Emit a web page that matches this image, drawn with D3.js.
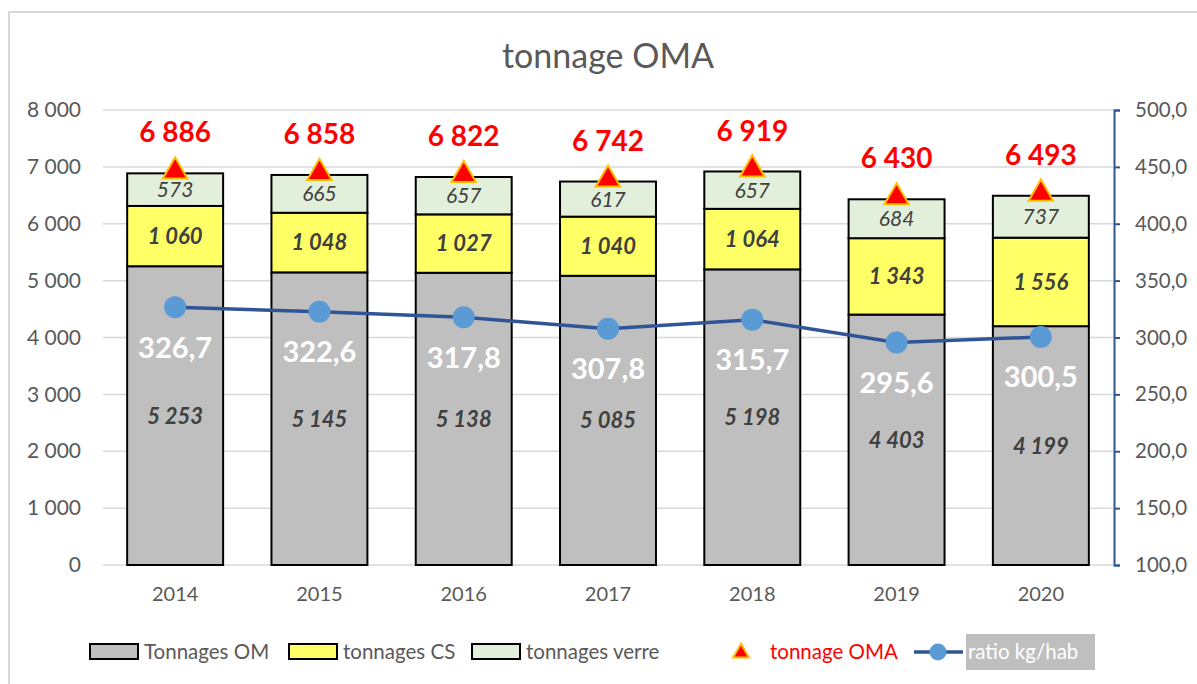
<!DOCTYPE html>
<html><head><meta charset="utf-8">
<script src="https://cdn.jsdelivr.net/npm/d3@7"></script>
<style>body{margin:0;background:#fff}svg{display:block}</style>
</head><body><svg id="c" width="1197" height="684"></svg>
<script>
const years = ["2014","2015","2016","2017","2018","2019","2020"];
const om = [5253,5145,5138,5085,5198,4403,4199];
const cs = [1060,1048,1027,1040,1064,1343,1556];
const verre = [573,665,657,617,657,684,737];
const oma = [6886,6858,6822,6742,6919,6430,6493];
const ratio = [326.7,322.6,317.8,307.8,315.7,295.6,300.5];
const leftTicks = [0,1000,2000,3000,4000,5000,6000,7000,8000];
const rightTicks = [100,150,200,250,300,350,400,450,500];

const font = "Lato, 'Open Sans', sans-serif";
const svg = d3.select("#c");
const fmtL = v => d3.format(",")(v).replace(/,/g," ");
const fmtR = v => v.toFixed(1).replace(".",",");

svg.append("rect").attr("x",9).attr("y",12).attr("width",1200).attr("height",700)
  .attr("fill","none").attr("stroke","#d9d9d9").attr("stroke-width",2);

const x = d3.scaleBand().domain(years).range([103,1113]).paddingInner(0.335).paddingOuter(0.1675);
const y = d3.scaleLinear().domain([0,8000]).range([565,110]);
const y2 = d3.scaleLinear().domain([100,500]).range([565,110]);

svg.append("text").attr("x",608).attr("y",68).attr("text-anchor","middle")
  .attr("font-family",font).attr("font-size",34).attr("fill","#595959").text("tonnage OMA");

// gridlines
svg.append("g").selectAll("line").data(leftTicks).join("line")
  .attr("x1",103).attr("x2",1113).attr("y1",d=>y(d)).attr("y2",d=>y(d))
  .attr("stroke","#d9d9d9").attr("stroke-width",1.5);

// left axis
const gl = svg.append("g").attr("transform","translate(103,0)")
  .call(d3.axisLeft(y).tickValues(leftTicks).tickFormat(fmtL).tickSize(0).tickPadding(22));
gl.select(".domain").remove();
gl.selectAll("text").attr("font-family",font).attr("font-size",21).attr("fill","#595959");

// right axis
const gr = svg.append("g").attr("transform","translate(1114,0)")
  .call(d3.axisRight(y2).tickValues(rightTicks).tickFormat(fmtR).tickSize(6).tickSizeOuter(6).tickPadding(15));
gr.select(".domain").attr("stroke","#2f5597").attr("stroke-width",2);
gr.selectAll(".tick line").attr("stroke","#2f5597").attr("stroke-width",2);
gr.selectAll("text").attr("font-family",font).attr("font-size",20.5).attr("fill","#595959");

// x axis
const gx = svg.append("g").attr("transform","translate(0,565)")
  .call(d3.axisBottom(x).tickSize(0).tickPadding(22));
gx.select(".domain").remove();
gx.selectAll("text").attr("font-family",font).attr("font-size",20).attr("fill","#595959");

// stacked bars
const series = [
  {vals: om, fill:"#bfbfbf"},
  {vals: cs, fill:"#ffff66"},
  {vals: verre, fill:"#e2efda"}
];
const stackData = years.map((yr,i)=>{
  let b=0; return series.map((s,k)=>{const r={yr,k,y0:b,y1:b+s.vals[i],v:s.vals[i]}; b+=s.vals[i]; return r;});
}).flat();
svg.append("g").selectAll("rect").data(stackData).join("rect")
  .attr("x",d=>x(d.yr)).attr("width",x.bandwidth())
  .attr("y",d=>y(d.y1)).attr("height",d=>y(d.y0)-y(d.y1))
  .attr("fill",d=>series[d.k].fill).attr("stroke","#000").attr("stroke-width",2);

svg.append("g").selectAll("text").data(stackData).join("text")
  .attr("x",d=>x(d.yr)+x.bandwidth()/2).attr("y",d=>(y(d.y0)+y(d.y1))/2)
  .attr("dy","0.36em").attr("text-anchor","middle")
  .attr("font-family",font).attr("font-style","italic")
  .attr("font-weight",d=>d.k===2?"normal":"bold")
  .attr("font-size",d=>d.k===2?21:22).attr("fill","#404040")
  .text(d=>fmtL(d.v));

// ratio line
const cx = d=>x(d)+x.bandwidth()/2;
svg.append("path").datum(ratio).attr("fill","none").attr("stroke","#2f5597").attr("stroke-width",3.5)
  .attr("d",d3.line().x((d,i)=>cx(years[i])).y(d=>y2(d)));
svg.append("g").selectAll("circle").data(ratio).join("circle")
  .attr("cx",(d,i)=>cx(years[i])).attr("cy",d=>y2(d)).attr("r",11).attr("fill","#5b9bd5");
svg.append("g").selectAll("text").data(ratio).join("text")
  .attr("x",(d,i)=>cx(years[i])).attr("y",d=>y2(d)+40).attr("dy","0.36em").attr("text-anchor","middle")
  .attr("font-family",font).attr("font-weight","bold").attr("font-size",29).attr("fill","#fff")
  .text(fmtR);

// OMA triangles
const tri = d3.symbol().type(d3.symbolTriangle).size(260);
svg.append("g").selectAll("path").data(oma).join("path")
  .attr("transform",(d,i)=>`translate(${cx(years[i])},${y(d)-2})`).attr("d",tri)
  .attr("fill","#ff0000").attr("stroke","#ffc000").attr("stroke-width",2);
svg.append("g").selectAll("text").data(oma).join("text")
  .attr("x",(d,i)=>cx(years[i])).attr("y",d=>y(d)-41).attr("dy","0.36em").attr("text-anchor","middle")
  .attr("font-family",font).attr("font-weight","bold").attr("font-size",28).attr("fill","#ff0000")
  .text(fmtL);

// legend
const lg = svg.append("g").attr("font-family",font).attr("font-size",20.5);
const legItems = [
  {x:90, fill:"#bfbfbf", label:"Tonnages OM"},
  {x:289, fill:"#ffff66", label:"tonnages CS"},
  {x:472, fill:"#e2efda", label:"tonnages verre"}
];
legItems.forEach(it=>{
  lg.append("rect").attr("x",it.x).attr("y",644).attr("width",48).attr("height",15)
    .attr("fill",it.fill).attr("stroke","#000").attr("stroke-width",2);
  lg.append("text").attr("x",it.x+54).attr("y",652).attr("dy","0.36em").attr("fill","#595959").text(it.label);
});
lg.append("path").attr("transform","translate(741,653)").attr("d",d3.symbol().type(d3.symbolTriangle).size(110))
  .attr("fill","#ff0000").attr("stroke","#ffc000").attr("stroke-width",2);
lg.append("text").attr("x",770).attr("y",652).attr("dy","0.36em").attr("fill","#ff0000").text("tonnage OMA");
lg.append("line").attr("x1",914).attr("x2",963).attr("y1",652).attr("y2",652).attr("stroke","#2f5597").attr("stroke-width",3.5);
lg.append("circle").attr("cx",938).attr("cy",652).attr("r",8.5).attr("fill","#5b9bd5");
lg.append("rect").attr("x",966).attr("y",634).attr("width",129).attr("height",36).attr("fill","#bfbfbf");
lg.append("text").attr("x",968).attr("y",652).attr("dy","0.36em").attr("fill","#fff").text("ratio kg/hab");
</script></body></html>
